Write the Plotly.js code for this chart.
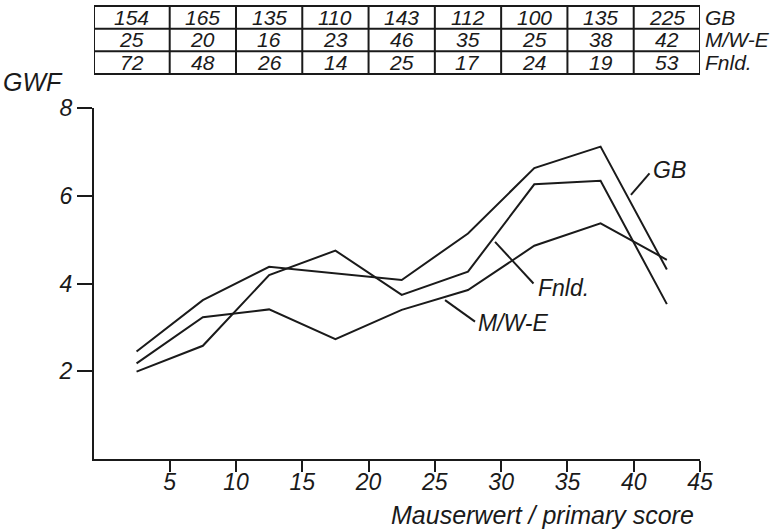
<!DOCTYPE html>
<html>
<head>
<meta charset="utf-8">
<script src="https://cdn.plot.ly/plotly-3.0.1.min.js"></script>
<style>
  html, body { margin: 0; padding: 0; background: #fff; }
  #chart { width: 782px; height: 531px; }
</style>
</head>
<body>
<div id="chart"></div>
<script>
// Class centres of the primary score (5-point classes)
const scoreMid = [2.5, 7.5, 12.5, 17.5, 22.5, 27.5, 32.5, 37.5, 42.5];
// Class edges (the table columns follow them)
const classEdges = [5, 10, 15, 20, 25, 30, 35, 40, 45];

// GWF per class
const gwfGB   = [2.45, 3.62, 4.38, 4.23, 4.08, 5.14, 6.63, 7.12, 4.32];
const gwfMWE  = [2.18, 3.23, 3.41, 2.73, 3.40, 3.85, 4.86, 5.37, 4.54];
const gwfFnld = [1.99, 2.58, 4.19, 4.75, 3.74, 4.27, 6.26, 6.34, 3.53];

// Sample sizes per class
const nGB   = [154, 165, 135, 110, 143, 112, 100, 135, 225];
const nMWE  = [25, 20, 16, 23, 46, 35, 25, 38, 42];
const nFnld = [72, 48, 26, 14, 25, 17, 24, 19, 53];

const rowNames = ['GB', 'M/W-E', 'Fnld.'];
const xTicks = [5, 10, 15, 20, 25, 30, 35, 40, 45];
const yTicks = [2, 4, 6, 8];

const INK = '#1a1a1a';
const FAMILY = 'Liberation Sans, Arial, sans-serif';
const FONT = {family: FAMILY, size: 23, color: INK, style: 'italic'};
const CELL = {family: FAMILY, size: 21, color: INK, style: 'italic'};
const BIG = {family: FAMILY, size: 25, color: INK, style: 'italic'};
const X0 = -0.71;

function series(y) {
  return {x: scoreMid, y: y, type: 'scatter', mode: 'lines',
          line: {color: INK, width: 2}, hoverinfo: 'skip', showlegend: false};
}
const data = [series(gwfGB), series(gwfMWE), series(gwfFnld)];

// Count table above the plot
const tableTop = 1.2906, rowH = 0.0645;
const shapes = [];
const annotations = [];
const colEdges = [X0].concat(classEdges);
for (let r = 0; r <= 3; r++) {
  shapes.push({type: 'line', xref: 'x', yref: 'paper', x0: X0, x1: 45,
               y0: tableTop - r * rowH, y1: tableTop - r * rowH,
               line: {color: INK, width: 2}});
}
colEdges.forEach(e => shapes.push({type: 'line', xref: 'x', yref: 'paper', x0: e, x1: e,
  y0: tableTop, y1: tableTop - 3 * rowH, line: {color: INK, width: 2}}));

[nGB, nMWE, nFnld].forEach((row, r) => {
  const yc = tableTop - (r + 0.5) * rowH;
  row.forEach((v, i) => annotations.push({
    xref: 'x', yref: 'paper', x: (colEdges[i] + colEdges[i + 1]) / 2, y: yc,
    text: String(v), showarrow: false, font: CELL, xanchor: 'center', yanchor: 'middle',
    borderpad: 0}));
  annotations.push({xref: 'paper', yref: 'paper', x: 1.006, y: yc, text: rowNames[r],
    showarrow: false, font: CELL, xanchor: 'left', yanchor: 'middle', borderpad: 0});
});

// Curve labels with leader strokes
const leaders = [
  {x0: 39.79, y0: 6.02, x1: 41.19, y1: 6.51, label: 'GB',    lx: 41.3, ly: 6.59},
  {x0: 29.54, y0: 4.95, x1: 32.44, y1: 4.00, label: 'Fnld.', lx: 32.6, ly: 3.90},
  {x0: 25.77, y0: 3.62, x1: 28.03, y1: 3.13, label: 'M/W-E', lx: 28.1, ly: 3.10}
];
leaders.forEach(d => {
  shapes.push({type: 'line', xref: 'x', yref: 'y', x0: d.x0, y0: d.y0, x1: d.x1, y1: d.y1,
               line: {color: INK, width: 2}});
  annotations.push({xref: 'x', yref: 'y', x: d.lx, y: d.ly, text: d.label, showarrow: false,
                    font: FONT, xanchor: 'left', yanchor: 'middle'});
});

// Axis names
annotations.push({xref: 'paper', yref: 'paper', x: -0.1, y: 1.075, text: 'GWF',
                  showarrow: false, font: BIG, xanchor: 'center', yanchor: 'middle'});
annotations.push({xref: 'paper', yref: 'paper', x: 0.74, y: -0.16, text: 'Mauserwert / primary score',
                  showarrow: false, font: BIG, xanchor: 'center', yanchor: 'middle'});

const layout = {
  width: 782, height: 531,
  margin: {l: 94, r: 82, t: 108, b: 72},
  paper_bgcolor: '#fff', plot_bgcolor: '#fff',
  showlegend: false,
  xaxis: {range: [X0, 45], tickvals: xTicks, ticktext: xTicks.map(String),
          showgrid: false, zeroline: false, showline: true, linecolor: INK, linewidth: 2,
          ticks: 'outside', ticklen: 11, tickwidth: 2, tickcolor: INK, tickfont: FONT,
          ticklabelstandoff: -10},
  yaxis: {range: [0, 8], tickvals: yTicks, ticktext: yTicks.map(String),
          showgrid: false, zeroline: false, showline: true, linecolor: INK, linewidth: 2,
          ticks: 'outside', ticklen: 15, tickwidth: 2, tickcolor: INK, tickfont: FONT},
  shapes: shapes,
  annotations: annotations
};

Plotly.newPlot('chart', data, layout, {staticPlot: true, displayModeBar: false});
</script>
</body>
</html>
